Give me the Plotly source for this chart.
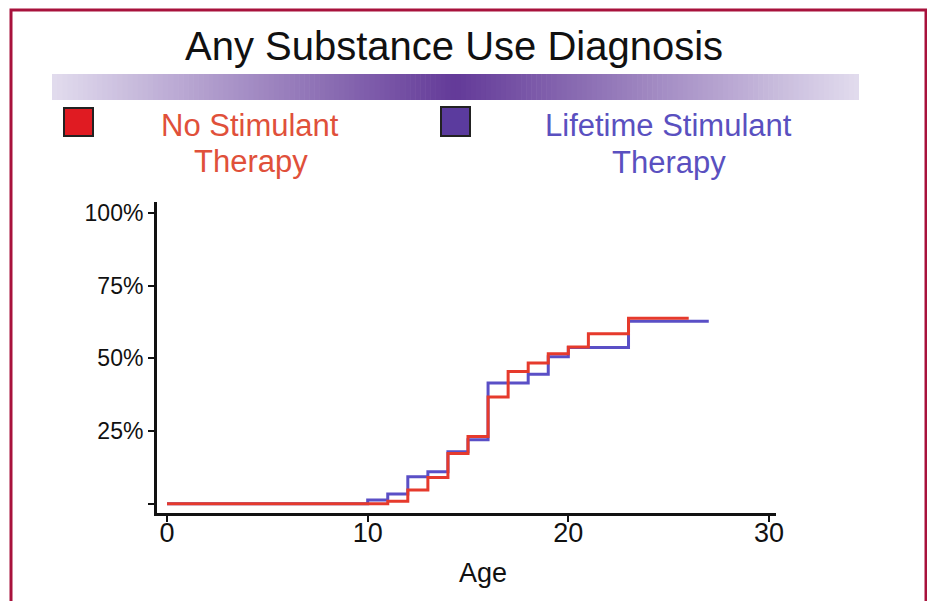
import plotly.graph_objects as go

# ---- data ----
age_no = [0, 11, 12, 13, 14, 15, 16, 17, 18, 19, 20, 21, 23, 26]
pct_no = [0, 0.8, 4.7, 9.0, 17.3, 23.1, 36.7, 45.5, 48.4, 51.6, 53.9, 58.5, 63.8, 63.8]

age_life = [0, 10, 11, 12, 13, 14, 15, 16, 18, 19, 20, 23, 27]
pct_life = [0, 1.3, 3.3, 9.3, 11.0, 17.9, 22.0, 41.5, 44.5, 50.6, 53.7, 62.8, 62.8]

y_tickvals = [0, 25, 50, 75, 100]
y_ticktext = ["", "25%", "50%", "75%", "100%"]
x_tickvals = [0, 10, 20, 30]

title_text = "Any Substance Use Diagnosis"
x_title = "Age"
series_names = ["No Stimulant Therapy", "Lifetime Stimulant Therapy"]

# ---- layout geometry (screen pixels; page body has an 8px margin) ----
O = 8
W, H = 935 - O, 601 - O
PL, PR, PT, PB = 157, 776, 202, 513  # plot area in screen pixels

def px(x):
    return (x - PL) / (PR - PL)

def py(y):
    return (PB - y) / (PB - PT)

RED = "#e63a2c"
BLUE = "#5a4fc6"
FONT = "Arial, Liberation Sans, sans-serif"

fig = go.Figure()
fig.add_trace(go.Scatter(x=age_life, y=pct_life, mode="lines", line_shape="hv",
                         line=dict(color=BLUE, width=3), name=series_names[1],
                         showlegend=False))
fig.add_trace(go.Scatter(x=age_no, y=pct_no, mode="lines", line_shape="hv",
                         line=dict(color=RED, width=3), name=series_names[0],
                         showlegend=False))

shapes = []
# outer frame
shapes.append(dict(type="rect", xref="paper", yref="paper",
                   x0=px(11), x1=px(926), y0=py(10), y1=py(640),
                   line=dict(color="#a8123c", width=3), fillcolor="rgba(0,0,0,0)", layer="below"))

# gradient bar
bx0, bx1, by0, by1 = 52, 859, 74, 100
n = 160
edge = (226, 220, 238)
mid = (99, 58, 152)
for i in range(n):
    xa = bx0 + (bx1 - bx0) * i / n
    xb = bx0 + (bx1 - bx0) * (i + 1) / n + 0.6
    t = abs(((i + 0.5) / n) - 0.5) * 2  # 0 at centre, 1 at edges
    c = tuple(int(round(mid[k] + (edge[k] - mid[k]) * t)) for k in range(3))
    shapes.append(dict(type="rect", xref="paper", yref="paper",
                       x0=px(xa), x1=px(min(xb, bx1)), y0=py(by1), y1=py(by0),
                       line=dict(width=0), fillcolor="rgb(%d,%d,%d)" % c, layer="below"))

# legend squares
shapes.append(dict(type="rect", xref="paper", yref="paper",
                   x0=px(64), x1=px(93), y0=py(136), y1=py(108),
                   line=dict(color="#222222", width=2), fillcolor="#e01b22"))
shapes.append(dict(type="rect", xref="paper", yref="paper",
                   x0=px(441), x1=px(470), y0=py(136), y1=py(107),
                   line=dict(color="#222222", width=2), fillcolor="#5b3b9e"))

annotations = [
    dict(text=title_text, x=px(454), y=py(46), xref="paper", yref="paper",
         showarrow=False, xanchor="center", yanchor="middle",
         font=dict(family=FONT, size=40, color="#111111")),
    dict(text="No Stimulant", x=px(250), y=py(125), xref="paper", yref="paper",
         showarrow=False, xanchor="center", yanchor="middle",
         font=dict(family=FONT, size=31, color="#e0503a")),
    dict(text="Therapy", x=px(251), y=py(161), xref="paper", yref="paper",
         showarrow=False, xanchor="center", yanchor="middle",
         font=dict(family=FONT, size=31, color="#e0503a")),
    dict(text="Lifetime Stimulant", x=px(668), y=py(125), xref="paper", yref="paper",
         showarrow=False, xanchor="center", yanchor="middle",
         font=dict(family=FONT, size=31, color="#5a50c0")),
    dict(text="Therapy", x=px(669), y=py(162), xref="paper", yref="paper",
         showarrow=False, xanchor="center", yanchor="middle",
         font=dict(family=FONT, size=31, color="#5a50c0")),
    dict(text=x_title, x=px(483), y=py(573), xref="paper", yref="paper",
         showarrow=False, xanchor="center", yanchor="middle",
         font=dict(family=FONT, size=27, color="#111111")),
]

fig.update_layout(
    width=W, height=H,
    margin=dict(l=PL - O, r=W - (PR - O), t=PT - O, b=H - (PB - O), pad=0),
    paper_bgcolor="white", plot_bgcolor="white",
    shapes=shapes, annotations=annotations,
    showlegend=False,
    font=dict(family=FONT, color="#111111"),
)
fig.update_xaxes(range=[-0.5, 30.35], tickvals=x_tickvals, showgrid=False, zeroline=False,
                 showline=True, linecolor="#111111", linewidth=3,
                 ticks="outside", ticklen=6, tickwidth=2, tickcolor="#111111",
                 ticklabelstandoff=-12,
                 tickfont=dict(size=27, color="#111111"))
fig.update_yaxes(range=[-3.2, 103.8], tickvals=y_tickvals, ticktext=y_ticktext,
                 showgrid=False, zeroline=False,
                 showline=True, linecolor="#111111", linewidth=3,
                 ticks="outside", ticklen=6, tickwidth=2, tickcolor="#111111",
                 tickfont=dict(size=23, color="#111111"))

fig.write_html("out.html")
